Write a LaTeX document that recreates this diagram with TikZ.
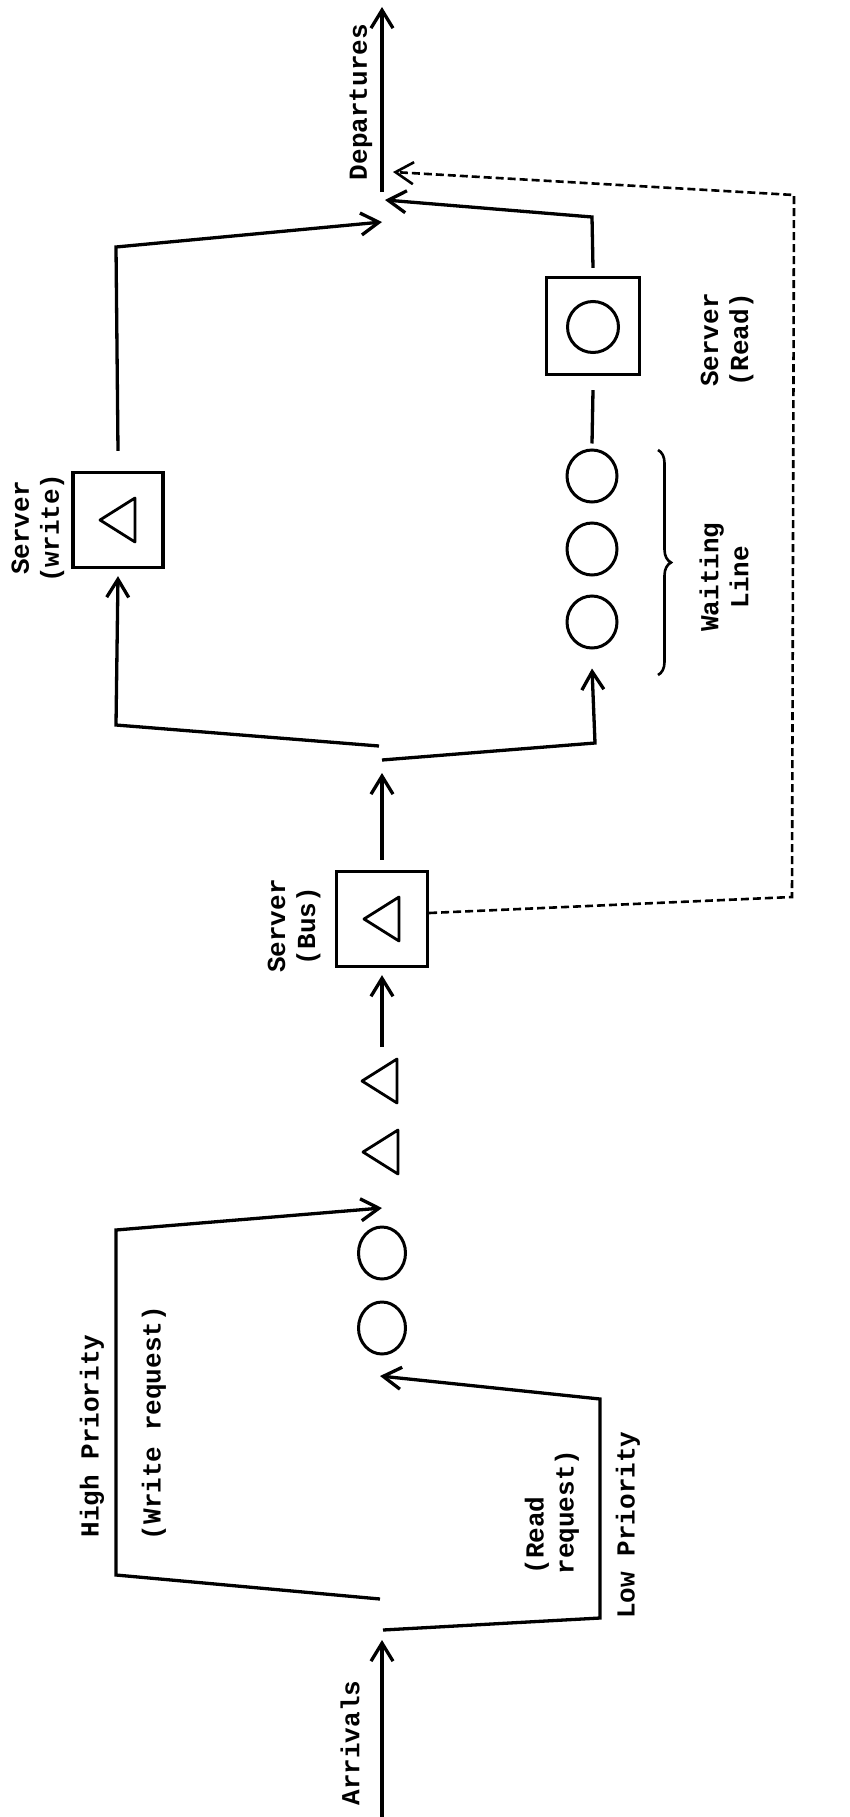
\documentclass[tikz,border=0pt]{standalone}
\usepackage{fontspec}
\setmainfont{Liberation Mono}
\usetikzlibrary{arrows.meta,calc,shapes.geometric,decorations.pathreplacing}
\newcommand\qtri[1]{\draw[line width=2.8pt,line join=round,shift={(#1)}] (-18,0)--(17,-22)--(17,22)--cycle;}

\begin{document}
\begin{tikzpicture}[x=1pt,y=-1pt,line width=3.3pt,>={Straight Barb[length=18pt,width=22pt]},
  srv/.style={draw,rectangle,line width=3.3pt,minimum width=90pt,minimum height=95pt,inner sep=0pt},
  cust/.style={draw,ellipse,line width=3pt,minimum width=50pt,minimum height=52pt,inner sep=0pt},
  lbl/.style={rotate=90,font=\fontsize{26}{30}\selectfont\bfseries,inner sep=0pt,align=center},
  rej/.style={line width=2.6pt,dash pattern=on 8pt off 4pt}]
\useasboundingbox (0,0) rectangle (850,1817);
\node[srv] (wsrv) at (118,520) {};\node[srv,minimum width=91pt] (bsrv) at (382,919) {};\node[srv,minimum width=93pt,minimum height=97pt] (rsrv) at (593,326) {};
\node[draw,circle,line width=3pt,minimum size=51pt,inner sep=0pt] (rdot) at (593,327) {};
\node[cust] (w1) at (592,476) {};\node[cust] (w2) at (592,549) {};\node[cust] (w3) at (592,622) {};
\node[cust,minimum width=47pt] (q1) at (382,1253) {};\node[cust,minimum width=47pt] (q2) at (382,1328) {};
\coordinate (t1) at (380,1081);\coordinate (t2) at (381,1152);
\qtri{wsrv}\qtri{bsrv}\qtri{t1}\qtri{t2}
\coordinate (src) at (382,1817);\coordinate (arrtip) at (382,1640);\draw[->] (src)--(arrtip);
\coordinate (hpa) at (380,1599);\coordinate (hpb) at (116,1575);\coordinate (hpc) at (116,1230);\coordinate (hpd) at (382,1208);
\draw[->] (hpa)--(hpb)--(hpc)--(hpd);
\coordinate (lpa) at (383,1630);\coordinate (lpb) at (600,1618);\coordinate (lpc) at (600,1399);\coordinate (lpd) at (380,1376);
\draw[->] (lpa)--(lpb)--(lpc)--(lpd);
\coordinate (qout) at (382,1047);\draw[->] (qout)--([yshift=-7pt]bsrv.south);
\coordinate (fork) at (382,773);\draw[->] ([yshift=10pt]bsrv.north)--(fork);
\coordinate (wua) at (379,746);\coordinate (wub) at (116,725);\draw[->] (wua)--(wub)--([yshift=-7pt]wsrv.south);
\coordinate (rua) at (382,760);\coordinate (rub) at (595,743);\draw[->] (rua)--(rub)--([yshift=-19pt]w3.south);
\draw ([yshift=5pt]w1.north)--([yshift=-14pt]rsrv.south);
\coordinate (wtop) at (116,247);\coordinate (wend) at (382,222);\draw[->] ([yshift=20pt]wsrv.north)--(wtop)--(wend);
\coordinate (rtop) at (592,217);\coordinate (rend) at (385,200);\draw[->] ([yshift=8pt]rsrv.north)--(rtop)--(rend);
\coordinate (depa) at (382,192);\coordinate (depb) at (382,7);\draw[->] (depa)--(depb);
\coordinate (rjb) at (792,897);\coordinate (rjc) at (794,195);\coordinate (rjd) at (393,172);
\draw[rej,->] ([yshift=6pt]bsrv.east)--(rjb)--(rjc)--(rjd);
\draw[line width=2.6pt,decorate,decoration={brace,amplitude=13pt}] (658,450)--(658,675);
\node[lbl] (deplbl) at (361,102) {Departures};
\node[lbl] (wslbl) at (38,528) {Server\\(write)};\node[lbl] (bslbl) at (294,926) {Server\\(Bus)};\node[lbl] (rslbl) at (727,340) {Server\\(Read)};
\node[lbl] (wllbl) at (724,577) {Waiting\\Line};
\node[lbl] (hplbl) at (92,1436) {High Priority};\node[lbl] (wrlbl) at (154,1423) {(Write request)};
\node[lbl,align=left] (rrlbl) at (552,1512) {(Read\\request)};\node[lbl] (lplbl) at (628,1525) {Low Priority};
\node[lbl] (arrlbl) at (350,1743) {Arrivals};
\end{tikzpicture}
\end{document}
